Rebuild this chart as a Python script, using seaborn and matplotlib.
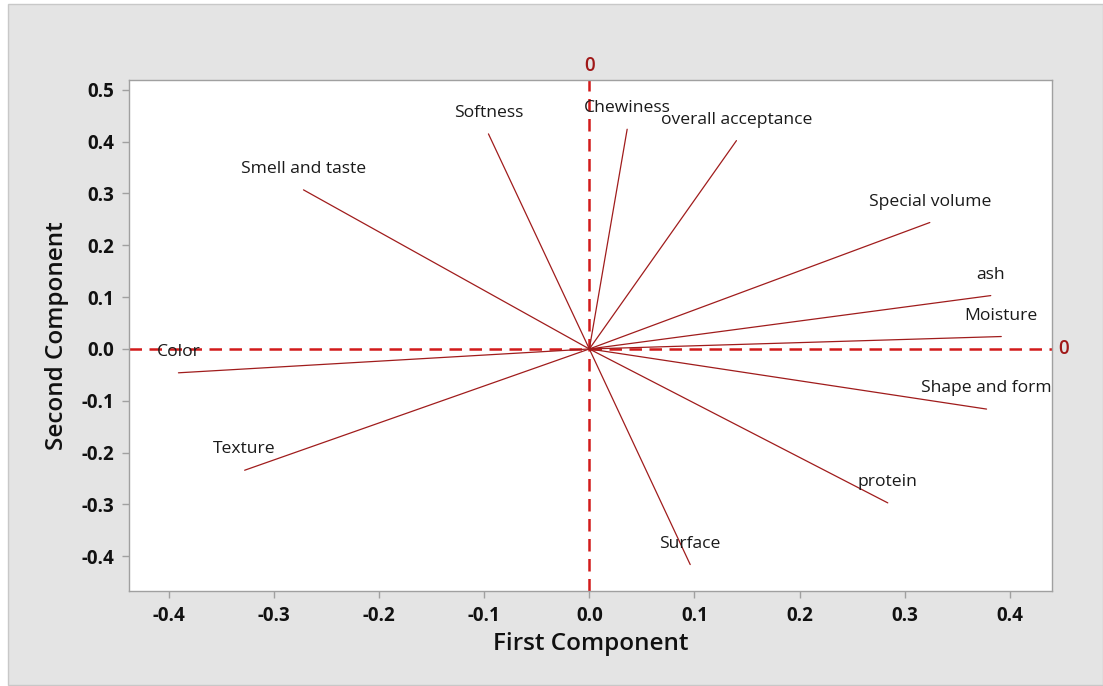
import numpy as np
import pandas as pd
import matplotlib
matplotlib.use("Agg")
import matplotlib.pyplot as plt
import seaborn as sns
from matplotlib.patches import Rectangle

variables = ["Smell and taste", "Softness", "Chewiness", "overall acceptance",
             "Special volume", "ash", "Moisture", "Shape and form",
             "protein", "Surface", "Texture", "Color"]
pc1 = [-0.272, -0.096, 0.036, 0.140, 0.324, 0.382, 0.392, 0.378,
       0.284, 0.096, -0.328, -0.391]
pc2 = [0.307, 0.415, 0.424, 0.402, 0.244, 0.103, 0.024, -0.116,
       -0.297, -0.416, -0.234, -0.046]
xticks = [-0.4, -0.3, -0.2, -0.1, 0.0, 0.1, 0.2, 0.3, 0.4]
yticks = [-0.4, -0.3, -0.2, -0.1, 0.0, 0.1, 0.2, 0.3, 0.4, 0.5]

sns.set_theme(style="white")
plt.rcParams["font.family"] = ["Open Sans", "DejaVu Sans"]
plt.rcParams["axes.unicode_minus"] = False

rows = []
for v, x, y in zip(variables, pc1, pc2):
    rows.append({"var": v, "x": 0.0, "y": 0.0, "o": 0})
    rows.append({"var": v, "x": x, "y": y, "o": 1})
df = pd.DataFrame(rows)

fig = plt.figure(figsize=(11.03, 6.86), dpi=100, facecolor="white")
bg = Rectangle((8 / 1103, 1 / 686), 1 - 8 / 1103, 1 - 5 / 686,
               transform=fig.transFigure, facecolor="#e4e4e4",
               edgecolor="#c8c8c8", linewidth=1.0, zorder=-10)
fig.patches.append(bg)
ax = fig.add_axes([0.117, 0.1385, 0.8365, 0.7449])
ax.set_zorder(5)
ax.set_facecolor("white")

ax.axhline(0, color="#d21a1a", linestyle=(0, (5, 3)), linewidth=1.8, zorder=1)
ax.axvline(0, color="#d21a1a", linestyle=(0, (5, 3)), linewidth=1.8, zorder=1)

sns.lineplot(data=df, x="x", y="y", units="var", estimator=None, sort=False,
             color="#a01c1c", linewidth=0.9, ax=ax, legend=False, zorder=2)

for v, x, y in zip(variables, pc1, pc2):
    ax.annotate(v, (x, y), xytext=(0, 15), textcoords="offset points",
                ha="center", va="center", fontsize=12.6, color="#1a1a1a", zorder=3)

ax.set_xlim(-0.438, 0.44)
ax.set_ylim(-0.467, 0.519)
ax.set_xticks(xticks)
ax.set_yticks(yticks)
ax.set_xticklabels([f"{t:.1f}" for t in xticks])
ax.set_yticklabels([f"{t:.1f}" for t in yticks])
ax.tick_params(axis="both", which="both", direction="out", length=5, width=1,
               color="#a0a0a0", labelsize=13.5, labelcolor="#111111", pad=6,
               bottom=True, left=True)
for lab in ax.get_xticklabels() + ax.get_yticklabels():
    lab.set_fontweight("bold")
for s in ax.spines.values():
    s.set_color("#a0a0a0")
    s.set_linewidth(1.0)

ax.set_xlabel("First Component", fontsize=17.5, fontweight="semibold",
              color="#111111", labelpad=4)
ax.set_ylabel("Second Component", fontsize=17.5, fontweight="semibold",
              color="#111111", labelpad=9)

ax.text(0, 1.008, "0", transform=ax.get_xaxis_transform(), ha="center",
        va="bottom", fontsize=13.5, color="#a01818", fontweight="semibold")
ax.text(1.007, 0, "0", transform=ax.get_yaxis_transform(), ha="left",
        va="center", fontsize=13.5, color="#a01818", fontweight="semibold")

fig.savefig("out.png", dpi=100, facecolor="white")
